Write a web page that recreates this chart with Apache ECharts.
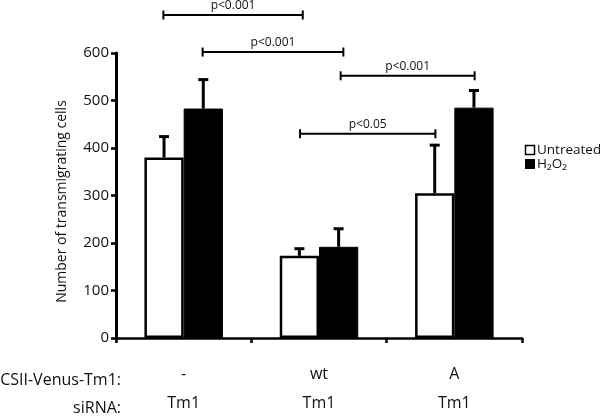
<!DOCTYPE html>
<html>
<head>
<meta charset="utf-8">
<script src="https://cdn.jsdelivr.net/npm/echarts@6/dist/echarts.min.js"></script>
<style>html,body{margin:0;padding:0;background:#fff}#c{width:600px;height:418px}</style>
</head>
<body>
<div id="c"></div>
<script>
// ---- data ----
var constructs = ['-', 'wt', 'A'];
var sirna = ['Tm1', 'Tm1', 'Tm1'];
var rowHeaders = ['CSII-Venus-Tm1:', 'siRNA:'];
var seriesNames = ['Untreated', 'H\u2082O\u2082'];
var untreated = [380, 173, 305];
var untreatedErr = [44, 15, 101];
var h2o2 = [483, 192, 485];
var h2o2Err = [61, 38, 36];
var yTicks = [0, 100, 200, 300, 400, 500, 600];
// brackets: [x start (category units), x end (category units), y value, label]
var brackets = [
  [-0.15, 0.88, 680, 'p<0.001'],
  [0.14, 1.18, 602, 'p<0.001'],
  [1.16, 2.15, 552, 'p<0.001'],
  [0.86, 1.86, 430, 'p<0.05']
];

var FONT = 'Open Sans';
var chart = echarts.init(document.getElementById('c'), null, {renderer: 'canvas'});
var BARW = 0.29;

function textWidth(t, size) {
  var ctx = document.createElement('canvas').getContext('2d');
  ctx.font = size + 'px "' + FONT + '"';
  return ctx.measureText(t).width;
}

function errRender(side, errs) {
  return function (params, api) {
    var i = api.value(0);
    var v = api.value(1);
    var e = errs[i];
    var band = api.size([1, 0])[0];
    var c = api.coord([i, v]);
    var top = api.coord([i, v + e]);
    var x = c[0] + side * band * BARW / 2;
    return {
      type: 'group',
      children: [
        {type: 'line', shape: {x1: x, y1: c[1], x2: x, y2: top[1]}, style: {stroke: '#000', lineWidth: 3}},
        {type: 'line', shape: {x1: x - 5, y1: top[1], x2: x + 5, y2: top[1]}, style: {stroke: '#000', lineWidth: 3}}
      ]
    };
  };
}

var HEADER_RIGHT = 121;
var headerEls = rowHeaders.map(function (t, k) {
  return {type: 'text', id: 'row' + k, x: HEADER_RIGHT - textWidth(t, 16), y: 380 + k * 28,
    style: {text: t, fontSize: 16, fontFamily: FONT, fill: '#111', align: 'left', verticalAlign: 'middle'}};
});

chart.setOption({
  animation: false,
  backgroundColor: '#fff',
  textStyle: {fontFamily: FONT},
  grid: {left: 116, right: 78, top: 53, bottom: 75},
  xAxis: {
    type: 'category',
    data: constructs,
    axisLine: {lineStyle: {color: '#000', width: 2.5}},
    axisTick: {show: true, interval: 0, length: 5, lineStyle: {width: 2.5, color: '#000'}},
    axisLabel: {
      interval: 0, margin: 22, lineHeight: 29, fontSize: 16, color: '#111', fontFamily: FONT,
      formatter: function (v, i) { return constructs[i] + '\n' + sirna[i]; }
    }
  },
  yAxis: {
    type: 'value', min: 0, max: 600, interval: 100,
    name: 'Number of transmigrating cells', nameLocation: 'middle', nameGap: 47,
    nameMoveOverlap: false,
    nameTextStyle: {fontSize: 14, color: '#111', fontFamily: FONT, padding: [0, 12, 0, 0]},
    splitLine: {show: false},
    axisLine: {show: true, lineStyle: {color: '#000', width: 3}},
    axisTick: {show: true, length: 5, lineStyle: {width: 2.5, color: '#000'}},
    axisLabel: {fontSize: 15, color: '#111', margin: 7, fontFamily: FONT,
      formatter: function (v) { return yTicks.indexOf(v) >= 0 ? String(v) : ''; }}
  },
  graphic: {
    elements: headerEls.concat([
      {type: 'rect', id: 'lg1', shape: {x: 525.5, y: 145.5, width: 9, height: 9}, style: {fill: '#fff', stroke: '#000', lineWidth: 1.5}},
      {type: 'text', id: 'lt1', x: 537, y: 150, style: {text: seriesNames[0], fontSize: 13.5, fontFamily: FONT, fill: '#111', verticalAlign: 'middle'}},
      {type: 'rect', id: 'lg2', shape: {x: 525, y: 159, width: 10, height: 10}, style: {fill: '#000'}},
      {type: 'text', id: 'lt2', x: 537, y: 164, style: {text: seriesNames[1], fontSize: 13.5, fontFamily: FONT, fill: '#111', verticalAlign: 'middle'}}
    ])
  },
  series: [
    {name: seriesNames[0], type: 'bar', data: untreated, barWidth: (BARW * 100) + '%', barGap: '0%',
      itemStyle: {color: '#fff', borderColor: '#000', borderWidth: 2.5}},
    {name: seriesNames[1], type: 'bar', data: h2o2, barWidth: (BARW * 100) + '%', barGap: '0%',
      itemStyle: {color: '#000', borderColor: '#000', borderWidth: 1}},
    {type: 'custom', data: untreated.map(function (v, i) { return [i, v]; }),
      renderItem: errRender(-1, untreatedErr), z: 5, silent: true, clip: false},
    {type: 'custom', data: h2o2.map(function (v, i) { return [i, v]; }),
      renderItem: errRender(1, h2o2Err), z: 5, silent: true, clip: false},
    {type: 'custom', data: brackets.map(function (b, i) { return [0, b[2], i]; }), z: 6, silent: true, clip: false,
      renderItem: function (params, api) {
        var b = brackets[api.value(2)];
        var band = api.size([1, 0])[0];
        var c0 = api.coord([0, b[2]]);
        var x1 = c0[0] + b[0] * band, x2 = c0[0] + b[1] * band, y = c0[1];
        return {
          type: 'group',
          children: [
            {type: 'line', shape: {x1: x1, y1: y, x2: x2, y2: y}, style: {stroke: '#000', lineWidth: 2}},
            {type: 'line', shape: {x1: x1, y1: y - 4.5, x2: x1, y2: y + 4.5}, style: {stroke: '#000', lineWidth: 2}},
            {type: 'line', shape: {x1: x2, y1: y - 4.5, x2: x2, y2: y + 4.5}, style: {stroke: '#000', lineWidth: 2}},
            {type: 'text', x: (x1 + x2) / 2, y: y - 3, style: {text: b[3], fontSize: 12, fontFamily: FONT, fill: '#111', align: 'center', verticalAlign: 'bottom'}}
          ]
        };
      }}
  ]
});
</script>
</body>
</html>
